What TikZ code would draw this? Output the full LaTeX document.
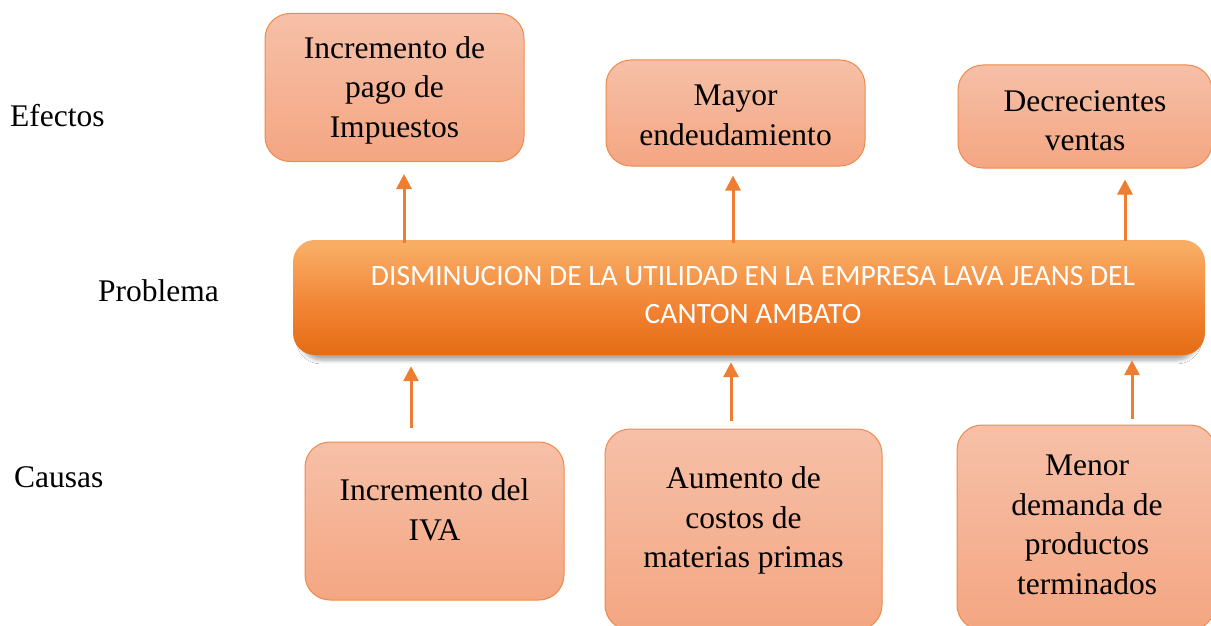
\documentclass[tikz,border=0pt]{standalone}
\usepackage{fontspec}
\setmainfont{Liberation Serif}
\newfontfamily\barfont{Carlito}
\usetikzlibrary{arrows.meta,shadows.blur}
\definecolor{acc}{HTML}{ED7D31}
\definecolor{boxtop}{RGB}{246,192,168}
\definecolor{boxbot}{RGB}{244,166,130}
\definecolor{boxline}{RGB}{240,138,75}
\definecolor{barA}{RGB}{248,172,100}
\definecolor{barB}{RGB}{242,130,50}
\definecolor{barC}{RGB}{227,108,20}
\pgfdeclareverticalshading{barshade}{100bp}{color(0bp)=(barC); color(25bp)=(barC); color(45bp)=(barB); color(72bp)=(barA); color(75bp)=(barA); color(100bp)=(barA)}
\tikzset{
  fxbox/.style={draw=boxline, line width=1pt, rounded corners=25pt, top color=boxtop, bottom color=boxbot, inner sep=0pt},
  fxtext/.style={font=\fontsize{31.5}{39.5}\selectfont, align=center, inner sep=0pt, text=black},
  side/.style={font=\fontsize{31.5}{39.5}\selectfont, anchor=west, inner sep=0pt},
  arr/.style={draw=acc, line width=3pt, -{Triangle[width=15pt,length=15pt]}},
  barbox/.style={rounded corners=22pt, shading=barshade, draw=none, inner sep=0pt,
    blur shadow={shadow xshift=0pt, shadow yshift=-6pt, shadow scale=0.985, shadow blur steps=6, shadow blur radius=4pt, shadow opacity=35}}
}
\begin{document}
\begin{tikzpicture}[x=1pt,y=-1pt]
\useasboundingbox (0,0) rectangle (1211,626);
\fill[white] (0,0) rectangle (1211,626);

% side labels
\node[side] (lef) at (10,116) {Efectos};
\node[side] (lpr) at (98,291) {Problema};
\node[side] (lca) at (14,477) {Causas};

% problem bar
\node[barbox, minimum width=912pt, minimum height=115pt] (bar) at (749,297.5) {};
\node[font=\barfont\fontsize{29.5}{38}\selectfont, text=white, align=center, inner sep=0pt] (bart) at (753,295)
  {DISMINUCION DE LA UTILIDAD EN LA EMPRESA LAVA JEANS DEL\\CANTON AMBATO};

% effects
\node[fxbox, minimum width=259pt, minimum height=148pt] (e1) at (394.5,87.5) {};
\node[fxbox, minimum width=259pt, minimum height=106pt] (e2) at (735.5,113) {};
\node[fxbox, minimum width=254pt, minimum height=103pt] (e3) at (1085,116.5) {};
\node[fxtext] (e1t) at (394.5,90) {Incremento de\\pago de\\Impuestos};
\node[fxtext] (e2t) at (735.5,115.5) {Mayor\\endeudamiento};
\node[fxtext] (e3t) at (1085,120.5) {Decrecientes\\ventas};

% causes
\node[fxbox, minimum width=259pt, minimum height=158pt] (c1) at (434.5,521) {};
\node[fxbox, minimum width=277pt, minimum height=201pt] (c2) at (743.5,529.5) {};
\node[fxbox, minimum width=258pt, minimum height=205pt] (c3) at (1086,527.5) {};
\node[fxtext] (c1t) at (434.5,510) {Incremento del\\IVA};
\node[fxtext] (c2t) at (743.5,520.5) {Aumento de\\costos de\\materias primas};
\node[fxtext] (c3t) at (1087,525) {Menor\\demanda de\\productos\\terminados};

% arrows bar -> effects
\draw[arr, shorten <=-3pt, shorten >=12pt] (bar.north -| 404,0) -- (e1.south -| 404,0);
\draw[arr, shorten <=-3pt, shorten >=9pt] (bar.north -| 733,0) -- (e2.south -| 733,0);
\draw[arr, shorten <=-1pt, shorten >=11pt] (bar.north -| 1125,0) -- (e3.south -| 1125,0);

% arrows causes -> bar
\draw[arr, shorten <=14pt, shorten >=11pt] (c1.north -| 411,0) -- (bar.south -| 411,0);
\draw[arr, shorten <=8pt, shorten >=7pt] (c2.north -| 731,0) -- (bar.south -| 731,0);
\draw[arr, shorten <=6pt, shorten >=5pt] (c3.north -| 1132,0) -- (bar.south -| 1132,0);
\end{tikzpicture}
\end{document}
